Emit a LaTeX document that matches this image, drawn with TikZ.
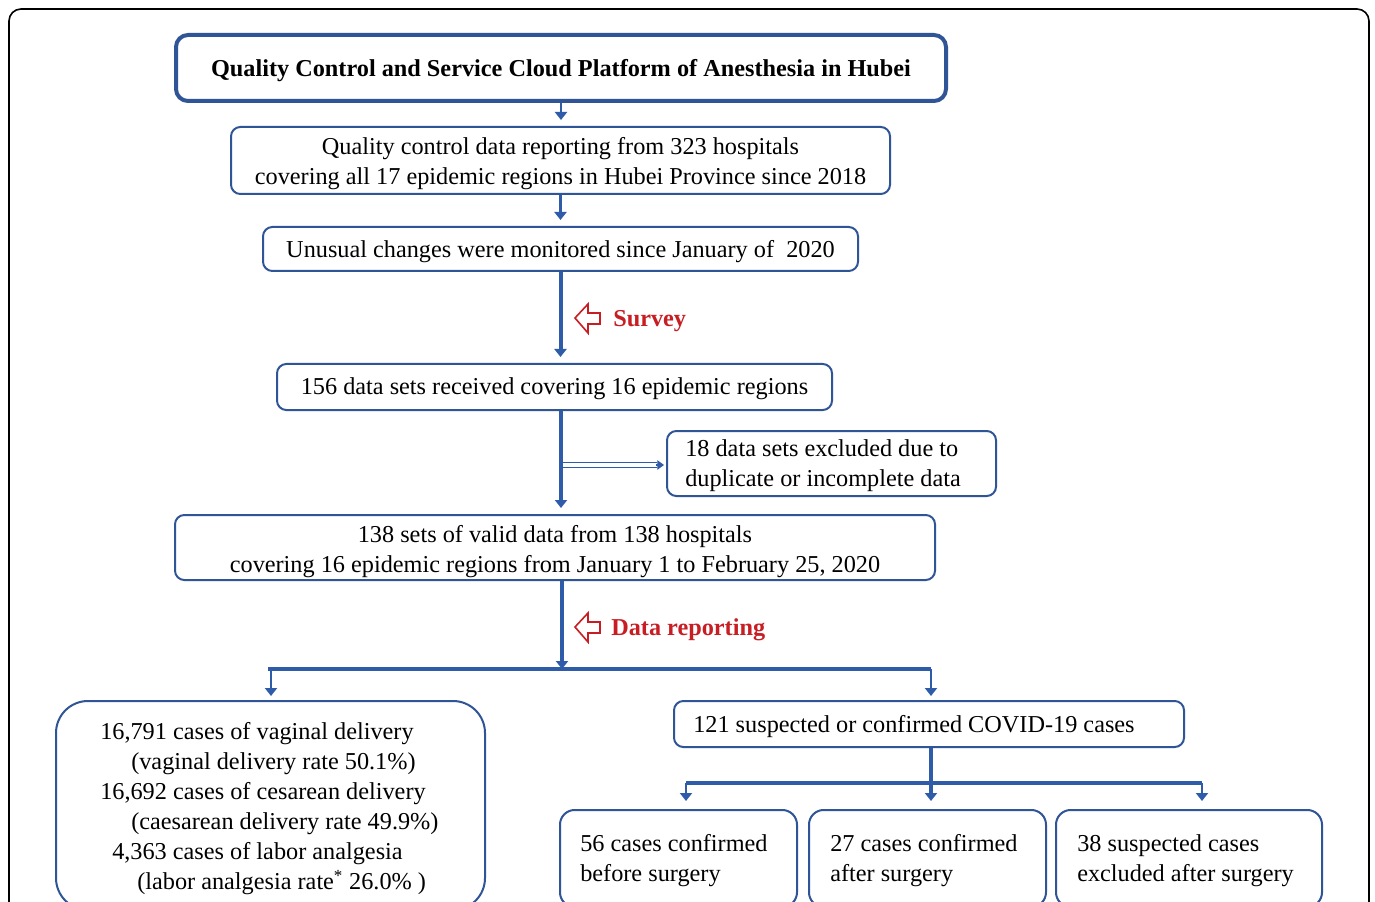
\documentclass[tikz,border=0pt]{standalone}
\usepackage{fontspec}
\setmainfont{Liberation Serif}
\usetikzlibrary{arrows.meta,calc}
\definecolor{boxblue}{RGB}{47,85,151}
\definecolor{arblue}{RGB}{46,92,168}
\definecolor{lblred}{RGB}{200,30,35}
\begin{document}
\begin{tikzpicture}[x=0.75pt,y=-0.75pt,
  txtfont/.style={font=\fontsize{18.2}{22.5}\selectfont},
  box/.style={draw=boxblue, line width=1.5pt, rounded corners=7pt, fill=white, inner sep=0pt},
  bigbox/.style={box, line width=3pt, rounded corners=9pt},
  ctxt/.style={inner sep=0pt, txtfont, align=center},
  ltxt/.style={inner sep=0pt, txtfont, align=left, anchor=west},
  arr/.style={draw=arblue, line width=2.2pt, -{Triangle[width=9pt,length=6pt]}, shorten >=4.5pt},
  thickarr/.style={arr, line width=3pt},
  barline/.style={draw=arblue, line width=3pt},
  lbl/.style={text=lblred, inner sep=0pt, font=\fontsize{18.2}{22.5}\selectfont\bfseries, anchor=west},
  harrow/.pic={\draw[lblred, line width=1.2pt, line join=miter] (0,0) -- (13,-14) -- (13,-5) -- (25,-5) -- (25,6) -- (13,6) -- (13,15) -- cycle;}
]
\useasboundingbox (0,0) rectangle (1375,902);
\clip (0,0) rectangle (1375,902);
\fill[white] (0,0) rectangle (1375,902);
\draw[black, line width=1.2pt, rounded corners=9pt] (9,9) rectangle (1369,940);

% boxes
\node[bigbox, minimum width=577.5pt, minimum height=49.5pt] (title) at (561,68) {};
\node[ctxt, font=\fontsize{18.2}{22.5}\selectfont\bfseries] (titletxt) at (561,70.5)
  {Quality Control and Service Cloud Platform of Anesthesia in Hubei};
\node[box, minimum width=494.25pt, minimum height=50.25pt] (box2) at (560.5,160.5) {};
\node[ctxt] (box2txt) at (560.5,163.5)
  {Quality control data reporting from 323 hospitals\\covering all 17 epidemic regions in Hubei Province since 2018};
\node[box, minimum width=446.25pt, minimum height=33pt] (box3) at (560.5,249) {};
\node[ctxt] (box3txt) at (560.5,251.5)
  {Unusual changes were monitored since January of~ 2020};
\node[box, minimum width=416.25pt, minimum height=34.5pt] (box4) at (554.5,387) {};
\node[ctxt] (box4txt) at (554.5,388.5)
  {156 data sets received covering 16 epidemic regions};
\node[box, minimum width=246.75pt, minimum height=48.75pt] (excl) at (831.5,463.5) {};
\node[ltxt] (excltxt) at (685,465.5) {18 data sets excluded due to\\duplicate or incomplete data};
\node[box, minimum width=570pt, minimum height=48.75pt] (box6) at (555,547.5) {};
\node[ctxt] (box6txt) at (555,551.5)
  {138 sets of valid data from 138 hospitals\\covering 16 epidemic regions from January 1 to February 25, 2020};

\node[box, rounded corners=24pt, minimum width=321.75pt, minimum height=156.75pt] (left) at (270.5,805.5) {};
\node[ltxt] (lefttxt) at (100,808.5)
  {16,791 cases of vaginal delivery\\
   \hspace*{23.25pt}(vaginal delivery rate 50.1\%)\\
   16,692 cases of cesarean delivery\\
   \hspace*{23.25pt}(caesarean delivery rate 49.9\%)\\
   \hspace*{9pt}4,363 cases of labor analgesia\\
   \hspace*{27.75pt}(labor analgesia rate\textsuperscript{*} 26.0\% )};

\node[box, minimum width=382.5pt, minimum height=34.5pt] (covid) at (929,724) {};
\node[ltxt] (covidtxt) at (693,727) {121 suspected or confirmed COVID-19 cases};

\node[box, rounded corners=11pt, minimum width=177.75pt, minimum height=72.75pt] (b1) at (678.5,858.5) {};
\node[ltxt] (b1txt) at (580,861) {56 cases confirmed\\before surgery};
\node[box, rounded corners=11pt, minimum width=177.75pt, minimum height=72.75pt] (b2) at (927.5,858.5) {};
\node[ltxt] (b2txt) at (830,861) {27 cases confirmed\\after surgery};
\node[box, rounded corners=11pt, minimum width=199.5pt, minimum height=72.75pt] (b3) at (1189,858.5) {};
\node[ltxt] (b3txt) at (1077,861) {38 suspected cases\\excluded after surgery};

% labels
\pic at (575,318) {harrow};
\node[lbl] (survey) at (613,321) {Survey};
\pic at (575,627) {harrow};
\node[lbl] (datarep) at (611,630) {Data reporting};

% connectors
\draw[arr] (title.south) -- (title.south |- box2.north);
\draw[arr] (box2.south) -- (box2.south |- box3.north);
\draw[thickarr] (box3.south) -- (box3.south |- box4.north);
\coordinate (jE) at (561,410);
\draw[thickarr] (jE |- box4.south) -- (jE |- box6.north);
\coordinate (jX) at (563,465);
\draw[arblue, line width=0.9pt, double=white, double distance=2.6pt] (jX) -- ($(jX -| excl.west)+(-9,0)$);
\draw[arblue, line width=0.8pt, -{Triangle[width=7pt,length=5pt]}] ($(jX -| excl.west)+(-10,0)$) -- ($(jX -| excl.west)+(-2,0)$);

\coordinate (jA) at (562,669);
\coordinate (jL) at (271,669);
\coordinate (jR) at (931,669);
\draw[thickarr, shorten >=0pt] (jA |- box6.south) -- (jA);
\draw[barline] ($(jL)+(-3,0)$) -- (jR);
\draw[arr, shorten >=3pt] (jL) -- (jL |- left.north);
\draw[arr, shorten >=3pt] (jR) -- (jR |- covid.north);

\coordinate (jC) at (931,783);
\coordinate (jB1) at (686,783);
\coordinate (jB3) at (1202,783);
\draw[thickarr, shorten >=6pt] (jR |- covid.south) -- (jC |- b2.north);
\draw[barline] (jB1) -- (jB3);
\draw[arr, shorten >=6pt] (jB1) -- (jB1 |- b1.north);
\draw[arr, shorten >=6pt] (jB3) -- (jB3 |- b3.north);
\end{tikzpicture}
\end{document}
